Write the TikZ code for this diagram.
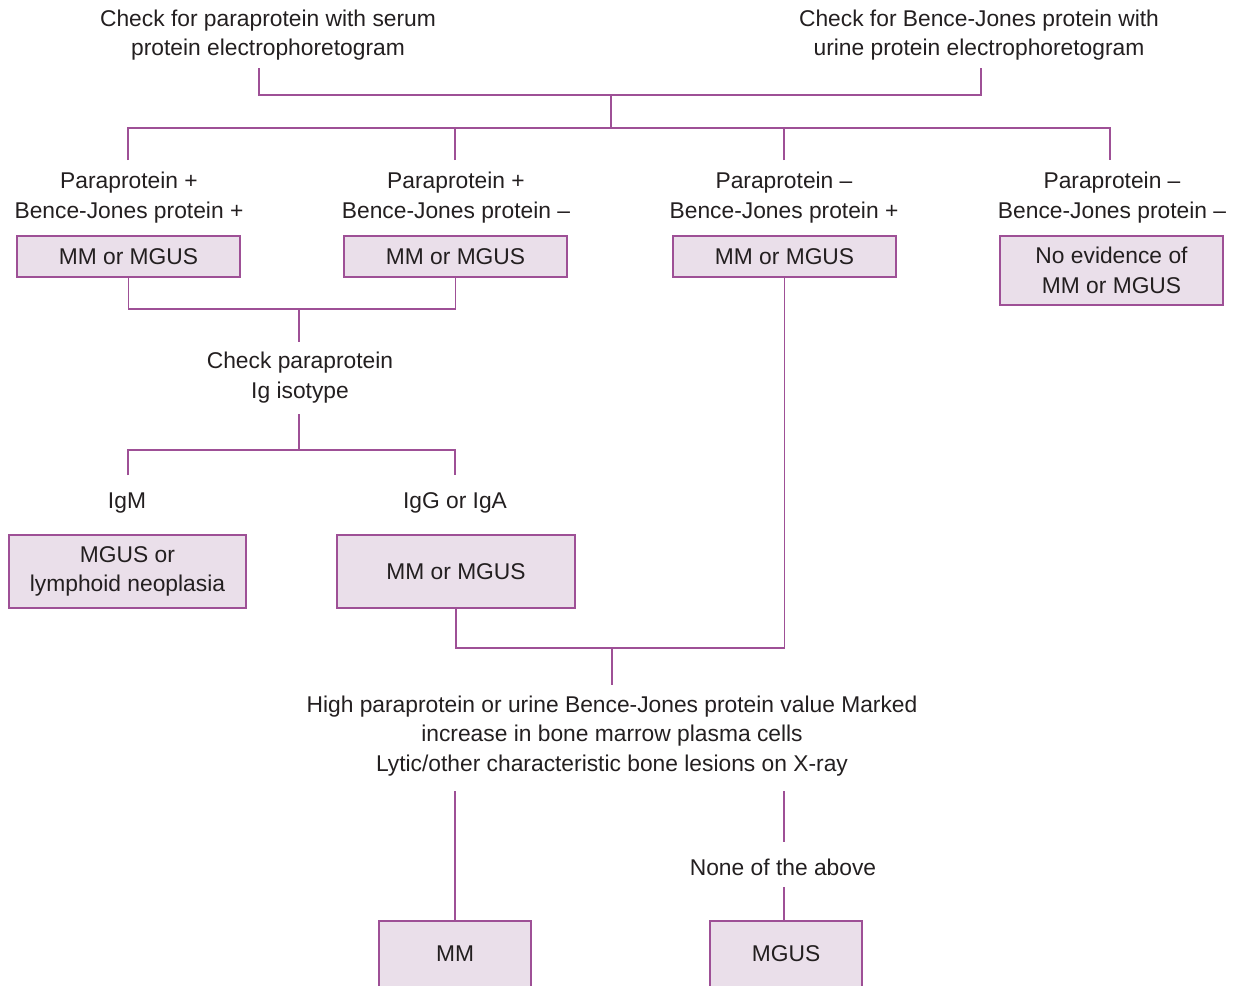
\documentclass[tikz,border=0pt]{standalone}
\usepackage{fontspec}
\setmainfont{Liberation Sans}
\usetikzlibrary{positioning}
\definecolor{linepurple}{RGB}{158,80,150}
\definecolor{boxfill}{RGB}{234,223,234}
\definecolor{textgray}{RGB}{35,31,32}

\begin{document}
\begin{tikzpicture}[
    x=0.5pt,y=-0.5pt,
    label/.style={align=center,font=\fontsize{11.4}{14.8}\selectfont,
        text=textgray,inner sep=0pt},
    result/.style={label,draw=linepurple,fill=boxfill,line width=0.8pt,
        minimum width=111.5pt,minimum height=20.5pt},
    link/.style={draw=linepurple,line width=0.7pt},
    ]
    \useasboundingbox (0,0) rectangle (1234,985);

    % initial tests
    \node[label] (serum) at (268,35) {Check for paraprotein with serum\\protein electrophoretogram};
    \node[label] (urine) at (979,35) {Check for Bence-Jones protein with\\urine protein electrophoretogram};
    \coordinate (serumfoot) at (259,68);
    \coordinate (urinefoot) at (981,68);
    \coordinate (top) at (611,95);
    \coordinate (split) at (611,128);
    \draw[link] (serumfoot) |- (top) -| (urinefoot);
    \draw[link] (top) -- (split);

    % four outcomes
    \coordinate (b1) at (128,160);
    \coordinate (b2) at (455,160);
    \coordinate (b3) at (784,160);
    \coordinate (b4) at (1110,160);
    \draw[link] (b1) |- (split) -| (b4);
    \foreach \b in {b2,b3}
        \draw[link] (\b) -- (\b |- split);

    \node[label] (pp1) at (129,197.5) {Paraprotein +\\Bence-Jones protein +};
    \node[label] (pp2) at (456,197.5) {Paraprotein +\\Bence-Jones protein --};
    \node[label] (pp3) at (784,197.5) {Paraprotein --\\Bence-Jones protein +};
    \node[label] (pp4) at (1112,197.5) {Paraprotein --\\Bence-Jones protein --};

    \node[result] (mm1) at (128.5,256.5) {MM or MGUS};
    \node[result] (mm2) at (455.5,256.5) {MM or MGUS};
    \node[result] (mm3) at (784.5,256.5) {MM or MGUS};
    \node[result,minimum height=34.5pt] (none) at (1111.5,270.5) {No evidence of\\MM or MGUS};

    % isotype check
    \coordinate (join1) at (299,309);
    \coordinate (isofoot) at (299,342);
    \draw[link] (mm1.south) |- (join1) -| (mm2.south);
    \draw[link] (join1) -- (isofoot);
    \node[label] (iso) at (300,377.5) {Check paraprotein\\Ig isotype};
    \coordinate (isohead) at (299,414);
    \coordinate (isosplit) at (299,450);
    \coordinate (ig1) at (128,475);
    \coordinate (ig2) at (455,475);
    \draw[link] (isohead) -- (isosplit);
    \draw[link] (ig1) |- (isosplit) -| (ig2);

    \node[label] (igm) at (127,503) {IgM};
    \node[label] (igga) at (455,503) {IgG or IgA};
    \node[result,minimum width=118.5pt,minimum height=36.5pt] (lymph) at (127.5,571.5) {MGUS or\\lymphoid neoplasia};
    \node[result,minimum width=119pt,minimum height=36.5pt] (mm4) at (456,571.5) {MM or MGUS};

    % criteria
    \coordinate (join2) at (612,648);
    \coordinate (critfoot) at (612,685);
    \draw[link] (mm4.south) |- (join2) -| (mm3.south);
    \draw[link] (join2) -- (critfoot);
    \node[label] (crit) at (612,736) {High paraprotein or urine Bence-Jones protein value Marked\\increase in bone marrow plasma cells\\Lytic/other characteristic bone lesions on X-ray};

    % final diagnosis
    \coordinate (critleft) at (455,791);
    \coordinate (critright) at (784,791);
    \coordinate (noneup) at (784,842);
    \coordinate (nonedown) at (784,887);
    \node[label] (noabove) at (783,867) {None of the above};
    \node[result,anchor=north,minimum width=76pt,minimum height=33pt] (mm) at (455,920) {MM};
    \node[result,anchor=north,minimum width=76pt,minimum height=33pt] (mgus) at (786,920) {MGUS};
    \draw[link] (critleft) -- (mm.north);
    \draw[link] (critright) -- (noneup);
    \draw[link] (nonedown) -- (nonedown |- mgus.north);
\end{tikzpicture}
\end{document}
